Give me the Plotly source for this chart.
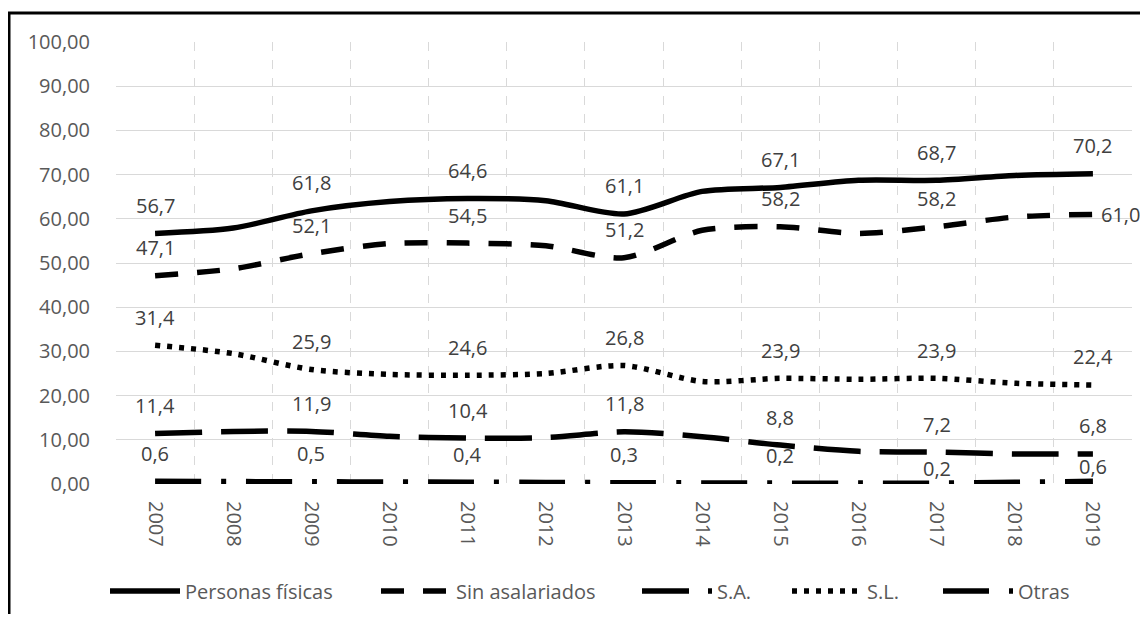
import plotly.graph_objects as go

years = ["2007", "2008", "2009", "2010", "2011", "2012", "2013",
         "2014", "2015", "2016", "2017", "2018", "2019"]

personas_fisicas = [56.7, 57.9, 61.8, 63.9, 64.6, 64.1, 61.1, 66.2, 67.1, 68.7, 68.7, 69.8, 70.2]
sin_asalariados = [47.1, 48.7, 52.1, 54.4, 54.5, 53.9, 51.2, 57.4, 58.2, 56.7, 58.2, 60.4, 61.0]
sa = [11.4, 11.9, 11.9, 10.8, 10.4, 10.5, 11.8, 10.7, 8.8, 7.4, 7.2, 6.8, 6.8]
sl = [31.4, 29.5, 25.9, 24.8, 24.6, 25.0, 26.8, 23.2, 23.9, 23.7, 23.9, 22.8, 22.4]
otras = [0.6, 0.55, 0.5, 0.45, 0.4, 0.35, 0.3, 0.25, 0.2, 0.2, 0.2, 0.4, 0.6]

y_ticks = [0, 10, 20, 30, 40, 50, 60, 70, 80, 90, 100]

series = [
    ("Personas físicas", personas_fisicas, "solid"),
    ("Sin asalariados", sin_asalariados, "23px,19px"),
    ("S.A.", sa, "47px,19px"),
    ("S.L.", sl, "5px,7px"),
    ("Otras", otras, "46px,20px,5px,20px"),
]

FONT = "Open Sans"
LABEL_COLOR = "#404040"
TICK_COLOR = "#595959"

# page geometry (browser body has an 8px margin)
PLOT_L, PLOT_R, PLOT_T, PLOT_B = 116, 1132, 42, 484
PW, PH = PLOT_R - PLOT_L, PLOT_B - PLOT_T


def px_to_paper_x(px):
    return (px - PLOT_L) / PW


def px_to_paper_y(py):
    return (PLOT_B - py) / PH


legend_text_starts = [185, 456, 717, 867, 1018]
legend_names = ["legend", "legend2", "legend3", "legend4", "legend5"]

fig = go.Figure()
for k, (name, vals, dash) in enumerate(series):
    fig.add_trace(go.Scatter(
        x=years, y=vals, name=name, mode="lines",
        line=dict(color="black", width=5.5, dash=dash, shape="spline", smoothing=0.8),
        hoverinfo="skip", legend=legend_names[k],
    ))

annotations = []
for name, vals, dash in series:
    for i in range(0, len(years), 2):
        v = vals[i]
        txt = f"{v:.1f}".replace(".", ",")
        if name == "Sin asalariados" and i == len(years) - 1:
            annotations.append(dict(
                x=i, y=v, xref="x", yref="y", text=txt, showarrow=False,
                xanchor="left", yanchor="middle", xshift=6,
                font=dict(family=FONT, size=20, color=LABEL_COLOR)))
        else:
            shift = 15 if (name == "Otras" and i >= 10) else 28
            annotations.append(dict(
                x=i, y=v, xref="x", yref="y", text=txt, showarrow=False,
                xanchor="center", yanchor="middle", yshift=shift,
                font=dict(family=FONT, size=20, color=LABEL_COLOR)))

layout_legends = {}
for k, ln in enumerate(legend_names):
    layout_legends[ln] = dict(
        orientation="h", x=px_to_paper_x(legend_text_starts[k] - 80), xanchor="left",
        y=px_to_paper_y(591), yanchor="middle",
        font=dict(family=FONT, size=20, color=TICK_COLOR),
        itemwidth=70, bgcolor="rgba(0,0,0,0)",
    )

fig.update_layout(
    width=1132, height=606,
    margin=dict(l=108, r=8, t=34, b=130, autoexpand=False),
    paper_bgcolor="white", plot_bgcolor="white",
    separators=",.",
    font=dict(family=FONT, size=20, color=TICK_COLOR),
    annotations=annotations,
    showlegend=True,
    shapes=[dict(type="rect", xref="paper", yref="paper",
                 x0=px_to_paper_x(9), x1=px_to_paper_x(1170),
                 y0=px_to_paper_y(660), y1=px_to_paper_y(13),
                 line=dict(color="black", width=3), layer="above")],
    **layout_legends,
)

fig.update_xaxes(
    type="category", range=[-0.5, 12.5], tickson="boundaries",
    showgrid=True, gridcolor="#d9d9d9", gridwidth=1, griddash="dash",
    showline=False, zeroline=False, ticks="", tickangle=90,
    tickfont=dict(family=FONT, size=20, color=TICK_COLOR),
    ticklabelstandoff=16, automargin=False,
)
fig.update_yaxes(
    range=[0, 100], tickvals=y_ticks, tickformat=".2f",
    showgrid=True, gridcolor="#d9d9d9", gridwidth=1,
    showline=False, zeroline=False, ticks="",
    tickfont=dict(family=FONT, size=20, color=TICK_COLOR),
    ticklabelstandoff=25, automargin=False,
)

fig.write_html("out.html")
